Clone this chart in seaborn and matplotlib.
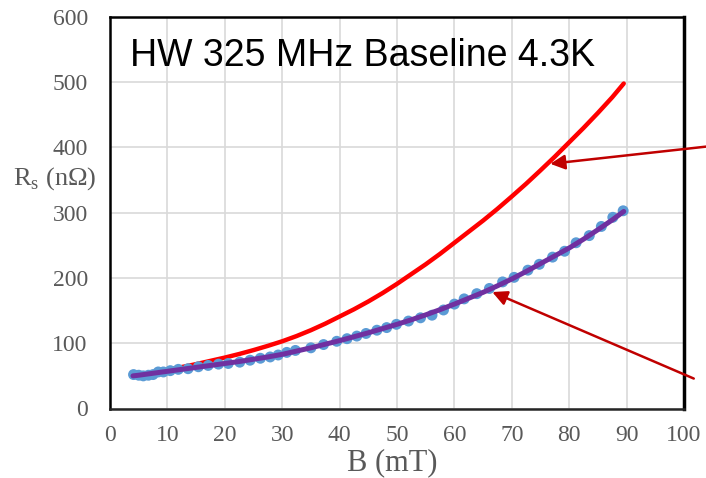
import matplotlib
matplotlib.use("Agg")
import matplotlib.pyplot as plt
import seaborn as sns
from matplotlib.ticker import MultipleLocator

# Measured data (blue points)
B_meas = [4.1, 5.0, 5.8, 6.7, 7.5, 8.4, 9.3, 10.5, 11.9, 13.6, 15.4, 17.1, 18.9,
          20.6, 22.6, 24.4, 26.2, 27.9, 29.3, 30.8, 32.3, 35.0, 37.2, 39.5, 41.3,
          43.0, 44.6, 46.5, 48.2, 49.9, 52.0, 54.1, 56.1, 58.1, 60.0, 61.7, 63.9,
          66.1, 68.4, 70.4, 72.8, 74.8, 77.1, 79.2, 81.2, 83.5, 85.6, 87.6, 89.4]
Rs_meas = [52, 51, 50, 51, 52, 56, 56, 58, 60, 61, 64, 66, 68,
           69, 71, 74, 77, 79, 82, 86, 89, 93, 98, 103, 107,
           111, 115, 120, 124, 129, 134, 139, 143, 151, 160, 168, 176,
           184, 194, 201, 212, 221, 232, 241, 254, 265, 279, 293, 303]

# Fit through measured data (purple line)
B_fit = [4, 5, 7.5, 10, 12.5, 15, 17.5, 20, 22.5, 25, 27.5, 30, 32.5, 35, 37.5,
         40, 42.5, 45, 47.5, 50, 52.5, 55, 57.5, 60, 62.5, 65, 67.5, 70, 72.5,
         75, 77.5, 80, 82.5, 85, 87.5, 89.5]
Rs_fit = [50, 51, 54, 57, 60, 63, 66, 69, 72, 75.5, 79, 83, 88, 93, 98.5,
          104, 110, 116, 122.5, 129, 136, 143.5, 151.5, 160, 169, 178, 188, 198.5, 210,
          222, 234, 246, 259.5, 274, 289, 302]

# Red curve
B_red = [5, 7.5, 10, 12.5, 15, 17.5, 20, 22.5, 25, 27.5, 30, 32.5, 35, 37.5,
         40, 42.5, 45, 47.5, 50, 52.5, 55, 57.5, 60, 62.5, 65, 67.5, 70, 72.5,
         75, 77.5, 80, 82.5, 85, 87.5, 89.5]
Rs_red = [52, 55.5, 59.5, 63.5, 68, 73, 78, 83.5, 89.5, 96, 103, 111, 120, 130,
          141, 152, 164, 177, 191, 206, 221, 237, 254, 271, 288, 306, 325, 344.5,
          365, 386, 408, 430, 453, 477, 498]

title_text = "HW 325 MHz Baseline 4.3K"
xlabel_text = "B (mT)"
ylabel_text = "R$_\\mathregular{s}$ (nΩ)"

sns.set_style("white")
plt.rcParams["font.family"] = ["Liberation Serif", "DejaVu Serif"]

W, H = 706, 478
fig = plt.figure(figsize=(W / 100, H / 100), dpi=100)
ax = fig.add_axes([110 / W, 1 - 408.5 / H, (684 - 110) / W, (408.5 - 17) / H])

sns.lineplot(x=B_red, y=Rs_red, color="#FF0000", lw=3.2, ax=ax, zorder=2)
sns.scatterplot(x=B_meas, y=Rs_meas, color="#5B9BD5", s=62, edgecolor="none",
                linewidth=0, ax=ax, zorder=3)
sns.lineplot(x=B_fit, y=Rs_fit, color="#7030A0", lw=3.6, ax=ax, zorder=4)

ax.set_xlim(0, 100)
ax.set_ylim(0, 600)
ax.xaxis.set_major_locator(MultipleLocator(10))
ax.xaxis.set_minor_locator(MultipleLocator(2))
ax.yaxis.set_major_locator(MultipleLocator(100))
ax.yaxis.set_minor_locator(MultipleLocator(20))
ax.grid(which="major", color="#D9D9D9", lw=1.2)
ax.set_axisbelow(True)
ax.tick_params(which="both", direction="in", color="#8C8C8C", width=1.0)
ax.tick_params(which="major", length=6)
ax.tick_params(which="minor", length=5)
ax.tick_params(axis="x", labelsize=17, labelcolor="#595959", pad=12)
ax.tick_params(axis="y", labelsize=17, labelcolor="#595959", pad=16)
ax.set_xlabel("")
ax.set_ylabel("")

for side, lw, col in [("left", 1.8, "black"), ("bottom", 1.8, "#262626"),
                      ("top", 1.8, "black"), ("right", 2.5, "black")]:
    ax.spines[side].set_visible(True)
    ax.spines[side].set_color(col)
    ax.spines[side].set_linewidth(lw)

ax.text(3.4, 525, title_text, family="Liberation Sans", fontsize=27,
        color="black", va="baseline", ha="left", zorder=5)

fig.text(392 / W, 1 - 470 / H, xlabel_text, fontsize=22, color="#595959",
         ha="center", va="baseline")
fig.text(13 / W, 1 - 185 / H, ylabel_text, fontsize=19, color="#595959",
         ha="left", va="baseline")

arrow_kw = dict(arrowstyle="-|>", color="#C00000", lw=1.8, mutation_scale=22,
                shrinkA=0, shrinkB=0)
ax.annotate("", xy=(76.7, 375), xytext=(104.0, 401.5), arrowprops=arrow_kw,
            annotation_clip=False)
ax.annotate("", xy=(66.6, 178.5), xytext=(101.7, 45.9), arrowprops=arrow_kw,
            annotation_clip=False)

fig.savefig("out.png", dpi=100)
